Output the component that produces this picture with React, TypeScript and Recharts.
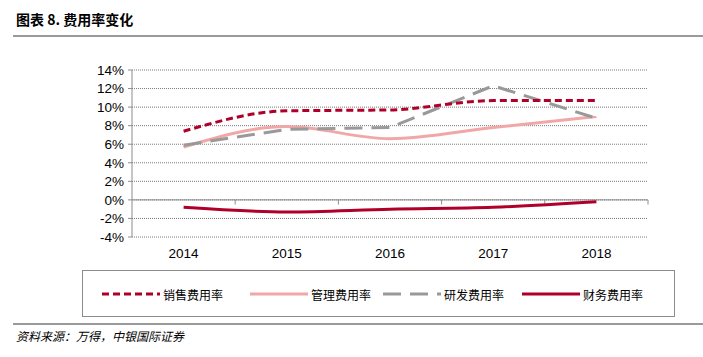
import React from 'react';
import { LineChart, Line, XAxis, YAxis, CartesianGrid, ReferenceLine } from 'recharts';

const years = ['2014', '2015', '2016', '2017', '2018'];
const salesRate = [7.4, 9.6, 9.7, 10.7, 10.7];
const adminRate = [5.7, 7.9, 6.6, 7.8, 9.0];
const rdRate = [5.9, 7.6, 7.8, 12.3, 8.8];
const financeRate = [-0.8, -1.3, -1.0, -0.8, -0.2];
const yTicks = [-4, -2, 0, 2, 4, 6, 8, 10, 12, 14];
const boundaryTicks = [0.5, 1.5, 2.5, 3.5, 4.5];

const RED = '#b0002a';
const PINK = '#f2a7a7';
const GRAY = '#999999';
const AXIS = '#8c8c8c';

const legendItems = [
  { name: '销售费用率', color: RED, dash: '7 4', left: 18 },
  { name: '管理费用率', color: PINK, dash: undefined, left: 166 },
  { name: '研发费用率', color: GRAY, dash: '18 9', left: 299 },
  { name: '财务费用率', color: RED, dash: undefined, left: 438 },
];

export default function App() {
  const data = years.map((y, i) => ({
    idx: i,
    year: y,
    sales: salesRate[i],
    admin: adminRate[i],
    rd: rdRate[i],
    finance: financeRate[i],
  }));

  return (
    <div style={{ position: 'absolute', left: 0, top: 0, width: 703, height: 357, background: '#fff', fontFamily: '"Noto Sans CJK SC", sans-serif' }}>
      <div style={{ position: 'absolute', left: 16, top: 9, fontSize: 14, fontWeight: 700, color: '#000' }}>
        图表 8. 费用率变化
      </div>
      <div style={{ position: 'absolute', left: 13, right: 0, top: 35, height: 2, background: '#9a9a9a' }} />

      <div style={{ position: 'absolute', left: 0, top: 0 }}>
        <LineChart width={703} height={270} data={data} margin={{ top: 70, right: 55, bottom: 3, left: 60 }}>
          <CartesianGrid horizontal vertical={false} stroke="#7a7a7a" strokeDasharray="1 1" />
          <XAxis
            dataKey="idx"
            type="number"
            domain={[-0.5, 4.5]}
            ticks={[0, 1, 2, 3, 4]}
            tickFormatter={(v: number) => years[v]}
            axisLine={false}
            tickLine={false}
            tickMargin={5}
            height={30}
            tick={{ fill: '#000', fontSize: 13.5, fontFamily: 'Liberation Sans, Arial, sans-serif' }}
          />
          <YAxis
            domain={[-4, 14]}
            ticks={yTicks}
            interval={0}
            tickFormatter={(v: number) => `${v}%`}
            width={72}
            axisLine={{ stroke: AXIS }}
            tickLine={{ stroke: AXIS }}
            tickSize={4}
            tickMargin={4}
            tick={{ fill: '#000', fontSize: 13.5, fontFamily: 'Liberation Sans, Arial, sans-serif' }}
          />
          <ReferenceLine y={0} stroke={AXIS} strokeWidth={1} />
          {boundaryTicks.map(x => (
            <ReferenceLine
              key={x}
              segment={[{ x, y: 0 }, { x, y: -0.5 }]}
              stroke={AXIS}
              strokeWidth={1}
            />
          ))}
          <Line dataKey="admin" type="monotone" stroke={PINK} strokeWidth={3} dot={false} isAnimationActive={false} />
          <Line dataKey="rd" type="linear" stroke={GRAY} strokeWidth={3} strokeDasharray="18 9" dot={false} isAnimationActive={false} />
          <Line dataKey="sales" type="monotone" stroke={RED} strokeWidth={3} strokeDasharray="7 4" dot={false} isAnimationActive={false} />
          <Line dataKey="finance" type="monotone" stroke={RED} strokeWidth={3} dot={false} isAnimationActive={false} />
        </LineChart>
      </div>

      <div style={{ position: 'absolute', left: 82, top: 270, width: 593, height: 47, border: '1px solid #8c8c8c', boxSizing: 'border-box' }}>
        {legendItems.map(item => (
          <div key={item.name} style={{ position: 'absolute', left: item.left, top: 14, display: 'flex', alignItems: 'center', height: 18 }}>
            <svg width={60} height={10}>
              <line x1={1} y1={5} x2={59} y2={5} stroke={item.color} strokeWidth={3} strokeDasharray={item.dash} />
            </svg>
            <span style={{ fontSize: 12, color: '#000', marginLeft: 2 }}>{item.name}</span>
          </div>
        ))}
      </div>

      <div style={{ position: 'absolute', left: 13, right: 0, top: 323, height: 2, background: '#9a9a9a' }} />
      <div style={{ position: 'absolute', left: 16, top: 327, fontSize: 12, fontStyle: 'italic', color: '#000' }}>
        资料来源：万得，中银国际证券
      </div>
    </div>
  );
}
